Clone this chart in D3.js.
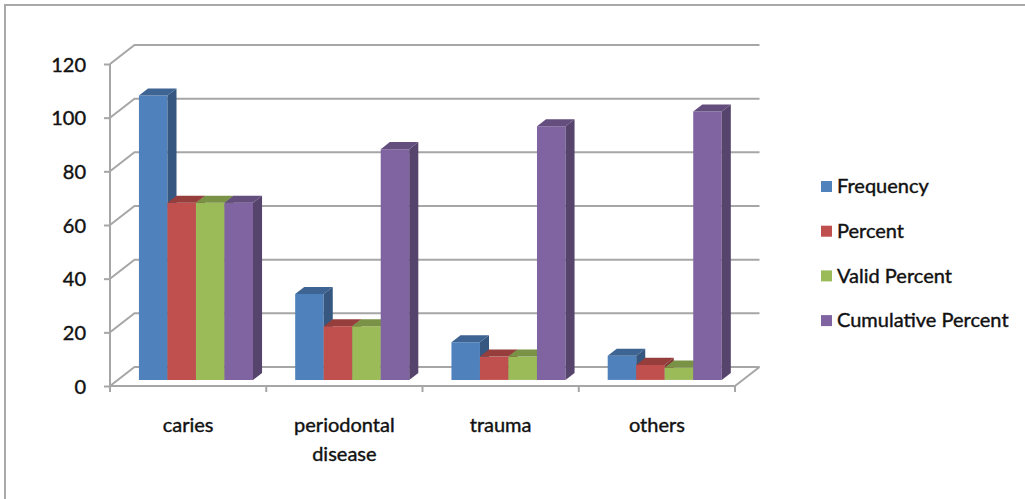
<!DOCTYPE html>
<html>
<head>
<meta charset="utf-8">
<script src="https://cdn.jsdelivr.net/npm/d3@7"></script>
<style>
  html, body { margin: 0; padding: 0; background: #fff; }
  svg { display: block; }
  text { font-family: Lato, "Open Sans", sans-serif; fill: #111; stroke: #111; stroke-width: 0.4px; }
</style>
</head>
<body>
<svg id="chart" width="1025" height="499"></svg>
<script>
// Reasons for visits: frequency table by diagnosis
const categories = ["caries", "periodontal disease", "trauma", "others"];
const seriesNames = ["Frequency", "Percent", "Valid Percent", "Cumulative Percent"];
const frequency = [106, 32, 14, 9];
const percent = [66, 20, 8.7, 5.6];
const validPercent = [66, 20, 8.7, 4.6];
const cumulativePercent = [66, 86, 94.5, 100];
const yTicks = [0, 20, 40, 60, 80, 100, 120];
const seriesColors = ["#4F81BD", "#C0504D", "#9BBB59", "#8064A2"];

const seriesValues = [frequency, percent, validPercent, cumulativePercent];

const svg = d3.select("#chart");

// outer frame
svg.append("path")
  .attr("d", "M5,499 L5,5 L1025,5")
  .attr("fill", "none").attr("stroke", "#A9A9A9").attr("stroke-width", 2);

// plot geometry
const y = d3.scaleLinear().domain([0, 120]).range([386, 64]);
const x = d3.scaleBand().domain(categories).range([110, 735]);
const xs = d3.scaleBand().domain(seriesNames).range([0, x.bandwidth()])
  .paddingInner(0).paddingOuter(0.74);
const depthX = 24.5, depthY = -19;
const proj = (px, v, d) => [px + depthX * d, y(v) + depthY * d];
const gridColor = "#A6A6A6";

const walls = svg.append("g").attr("stroke", gridColor).attr("stroke-width", 2).attr("fill", "none");
const x0 = x.range()[0], x1 = x.range()[1];

// back wall gridlines and left wall diagonals
yTicks.forEach(t => {
  const a = proj(x0, t, 0), b = proj(x0, t, 1), c = proj(x1, t, 1);
  walls.append("polyline").attr("points", [a, b, c].map(p => p.join(",")).join(" "));
});
// floor right edge
{
  const a = proj(x1, 0, 0), b = proj(x1, 0, 1);
  walls.append("line").attr("x1", a[0]).attr("y1", a[1]).attr("x2", b[0]).attr("y2", b[1]);
}

// value axis
const yAxis = svg.append("g").attr("transform", `translate(${x0},0)`)
  .call(d3.axisLeft(y).tickValues(yTicks).tickSize(6).tickPadding(18));
yAxis.select(".domain").attr("stroke", gridColor).attr("stroke-width", 2)
  .attr("d", `M0,${y(120)}V${y(0) + 4}`);
yAxis.selectAll(".tick line").attr("stroke", gridColor).attr("stroke-width", 2);
yAxis.selectAll(".tick text").attr("font-size", 20).attr("fill", "#111")
  .style("font-family", "Lato, sans-serif").attr("dy", "0.36em");

// category axis
const xAxis = svg.append("g").attr("transform", `translate(0,${y(0)})`)
  .call(d3.axisBottom(x).tickSize(0).tickFormat(""));
xAxis.select(".domain").attr("stroke", gridColor).attr("stroke-width", 2)
  .attr("d", `M${x0},0H${x1}`);
const tickXs = categories.map(c => x(c)).concat([x1]);
xAxis.selectAll(".boundary").data(tickXs).enter().append("line")
  .attr("x1", d => d).attr("x2", d => d).attr("y1", 0).attr("y2", 6)
  .attr("stroke", gridColor).attr("stroke-width", 2);

// category labels (wrapped)
const labelLines = { "periodontal disease": ["periodontal", "disease"] };
categories.forEach(c => {
  const lines = labelLines[c] || [c];
  const t = svg.append("text").attr("text-anchor", "middle").attr("font-size", 20)
    .attr("x", x(c) + x.bandwidth() / 2).attr("y", 432);
  lines.forEach((ln, i) => {
    t.append("tspan").attr("x", x(c) + x.bandwidth() / 2).attr("dy", i === 0 ? 0 : 29).text(ln);
  });
});

// 3D columns
const dFront = 0.32, dBack = 0.69;
const bars = svg.append("g");
categories.forEach((c, ci) => {
  seriesNames.forEach((s, si) => {
    const v = seriesValues[si][ci];
    const col = d3.color(seriesColors[si]);
    const left = x(c) + xs(s), right = left + xs.bandwidth();
    const fTL = proj(left, v, dFront), fTR = proj(right, v, dFront);
    const fBR = proj(right, 0, dFront), fBL = proj(left, 0, dFront);
    const bTL = proj(left, v, dBack), bTR = proj(right, v, dBack), bBR = proj(right, 0, dBack);
    const pts = arr => arr.map(p => p.join(",")).join(" ");
    bars.append("polygon").attr("points", pts([fTL, fTR, fBR, fBL])).attr("fill", col.formatHex());
    bars.append("polygon").attr("points", pts([fTL, bTL, bTR, fTR])).attr("fill", col.darker(0.7).formatHex());
    bars.append("polygon").attr("points", pts([fTR, bTR, bBR, fBR])).attr("fill", col.darker(1.1).formatHex());
  });
});

// legend
const legend = svg.append("g").attr("transform", "translate(821,186)");
seriesNames.forEach((s, i) => {
  const g = legend.append("g").attr("transform", `translate(0,${i * 44.7})`);
  g.append("rect").attr("x", 0).attr("y", -5).attr("width", 11).attr("height", 11)
    .attr("fill", seriesColors[i]);
  g.append("text").attr("x", 16).attr("y", 0).attr("dy", "0.36em")
    .attr("font-size", 20).text(s);
});
</script>
</body>
</html>
